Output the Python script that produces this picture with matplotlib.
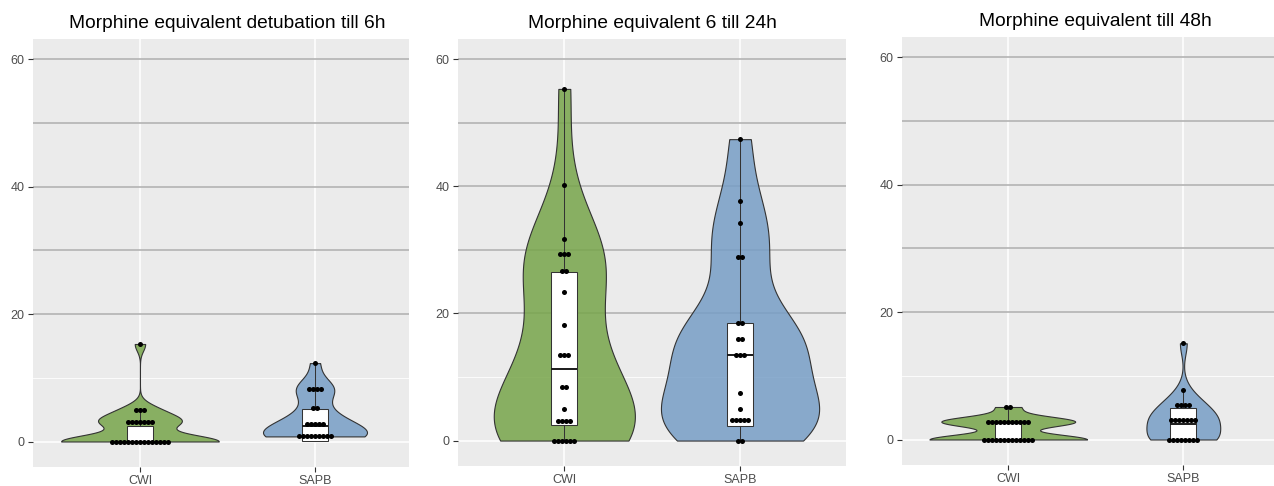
import numpy as np
import matplotlib
matplotlib.use("Agg")
import matplotlib.pyplot as plt
from matplotlib import cbook, mlab

plt.rcParams['font.family'] = ['Liberation Sans', 'DejaVu Sans']

groups = ["CWI", "SAPB"]
titles = ["Morphine equivalent detubation till 6h",
          "Morphine equivalent 6 till 24h",
          "Morphine equivalent till 48h"]

p1_cwi = [0, 0, 0, 0, 0, 0, 0, 0, 0, 0, 0, 0, 0, 0, 0,
          3.1, 3.1, 3.1, 3.1, 3.1, 3.1, 3.1, 4.9, 4.9, 4.9, 15.3]
p1_sapb = [0.8, 0.8, 0.8, 0.8, 0.8, 0.8, 0.8, 0.8, 0.8,
           2.8, 2.8, 2.8, 2.8, 2.8, 5.2, 5.2, 8.3, 8.3, 8.3, 8.3, 12.3]
p2_cwi = [0, 0, 0, 0, 0, 0, 3.1, 3.1, 3.1, 3.1, 5.0, 8.5, 8.5,
          13.4, 13.4, 13.4, 18.2, 23.3, 26.6, 26.6, 29.4, 29.4, 29.4,
          31.7, 40.2, 55.3]
p2_sapb = [0, 0, 3.3, 3.3, 3.3, 3.3, 3.3, 5.0, 7.5, 13.4, 13.4, 13.4,
           15.9, 15.9, 18.5, 18.5, 28.8, 28.8, 34.2, 37.6, 47.4]
p3_cwi = [0, 0, 0, 0, 0, 0, 0, 0, 0, 0, 0, 0, 0,
          2.8, 2.8, 2.8, 2.8, 2.8, 2.8, 2.8, 2.8, 2.8, 2.8, 2.8, 5.1, 5.1]
p3_sapb = [0, 0, 0, 0, 0, 0, 0, 0, 3.0, 3.0, 3.0, 3.0, 3.0, 3.0, 3.0,
           5.4, 5.4, 5.4, 5.4, 7.7, 15.1]

# box statistics: (q1, median, q3, whisker low, whisker high)
p1_box = [(0.0, 0.0, 2.5, 0.0, 4.9), (0.15, 2.5, 5.1, 0.15, 12.3)]
p2_box = [(2.46, 11.2, 26.5, 0.0, 55.3), (2.36, 13.4, 18.5, 0.0, 47.4)]
p3_box = [(0.0, 0.0, 2.6, 0.0, 5.1), (0.0, 2.5, 5.0, 0.0, 7.7)]

ref_lines = [20, 30, 40, 50, 60]
y_ticks = [0, 20, 40, 60]

panels = [
    dict(data=[p1_cwi, p1_sapb], box=p1_box, title=titles[0],
         rect=(33, 39, 409, 467), xlim=(0.389, 2.537), tcx=227, ty=28),
    dict(data=[p2_cwi, p2_sapb], box=p2_box, title=titles[1],
         rect=(458, 39, 846, 466), xlim=(0.395, 2.603), tcx=652, ty=28),
    dict(data=[p3_cwi, p3_sapb], box=p3_box, title=titles[2],
         rect=(902, 37, 1274, 465), xlim=(0.393, 2.518), tcx=1095, ty=26),
]

W, H = 1274, 486
fig = plt.figure(figsize=(W / 100, H / 100), dpi=100)

fills = ['#77A54A', '#779EC6']
bg = '#EBEBEB'
adjust = 1.0


def nrd0(x):
    x = np.asarray(x, float)
    sd = np.std(x, ddof=1)
    iqr = np.subtract(*np.percentile(x, [75, 25]))
    lo = min(sd, iqr / 1.34) if iqr > 0 else sd
    return 0.9 * lo * len(x) ** (-0.2)


def kde_method(data, coords):
    data = np.asarray(data, float)
    bw = nrd0(data) * adjust
    kde = mlab.GaussianKDE(data, bw_method=lambda k: bw / np.std(data, ddof=1))
    return kde.evaluate(coords)


for p in panels:
    l, t, r, b = p['rect']
    ax = fig.add_axes([l / W, 1 - b / H, (r - l) / W, (b - t) / H])
    ax.set_facecolor(bg)
    for s in ax.spines.values():
        s.set_visible(False)
    ax.set_xlim(*p['xlim'])
    ax.set_ylim(-4, 63.15)

    # grid
    ax.axhline(0, color='white', lw=1.1, zorder=0.2)
    ax.axhline(10, color='white', lw=0.6, zorder=0.2)
    for xp in (1, 2):
        ax.axvline(xp, color='white', lw=1.1, zorder=0.2)
    for yl in ref_lines:
        ax.axhline(yl, color='#B3B3B3', lw=1.2, zorder=0.4)

    # violins (area scaled as ggplot)
    stats = cbook.violin_stats(p['data'], kde_method, points=512)
    maxd = max(s['vals'].max() for s in stats)
    widths = [0.9 * s['vals'].max() / maxd for s in stats]
    vp = ax.violin(stats, positions=[1, 2], widths=widths,
                   showmeans=False, showextrema=False, showmedians=False)
    for body, fc in zip(vp['bodies'], fills):
        body.set_alpha(None)
        body.set_facecolor(matplotlib.colors.to_rgba(fc, 0.85))
        body.set_edgecolor('#333333')
        body.set_linewidth(0.8)
        body.set_zorder(1)

    # boxes
    bstats = []
    for (q1, med, q3, wl, wh) in p['box']:
        bstats.append(dict(q1=q1, med=med, q3=q3, whislo=wl, whishi=wh, fliers=[]))
    ax.bxp(bstats, positions=[1, 2], widths=0.15, showfliers=False,
           showcaps=False, patch_artist=True, manage_ticks=False,
           boxprops=dict(facecolor='white', edgecolor='#333333', linewidth=0.75),
           medianprops=dict(color='#1a1a1a', linewidth=1.4),
           whiskerprops=dict(color='#333333', linewidth=0.75), zorder=2)

    # dots (centred stacks)
    spacing = 0.0229
    for xp, vals in zip((1, 2), p['data']):
        u, c = np.unique(vals, return_counts=True)
        xs, ys = [], []
        for v, n in zip(u, c):
            xs.extend(xp + (np.arange(n) - (n - 1) / 2) * spacing)
            ys.extend([v] * n)
        ax.scatter(xs, ys, s=13, color='black', linewidths=0, zorder=3)

    ax.set_xticks([1, 2])
    ax.set_xticklabels(groups)
    ax.set_yticks(y_ticks)
    ax.tick_params(axis='both', colors='#333333', length=3.5, width=0.8,
                   labelsize=9, labelcolor='#4D4D4D', pad=2.5)
    fig.text(p['tcx'] / W, 1 - p['ty'] / H, p['title'], ha='center',
             va='baseline', fontsize=13.8, color='black')

fig.savefig('out.png', dpi=100, facecolor='white')
